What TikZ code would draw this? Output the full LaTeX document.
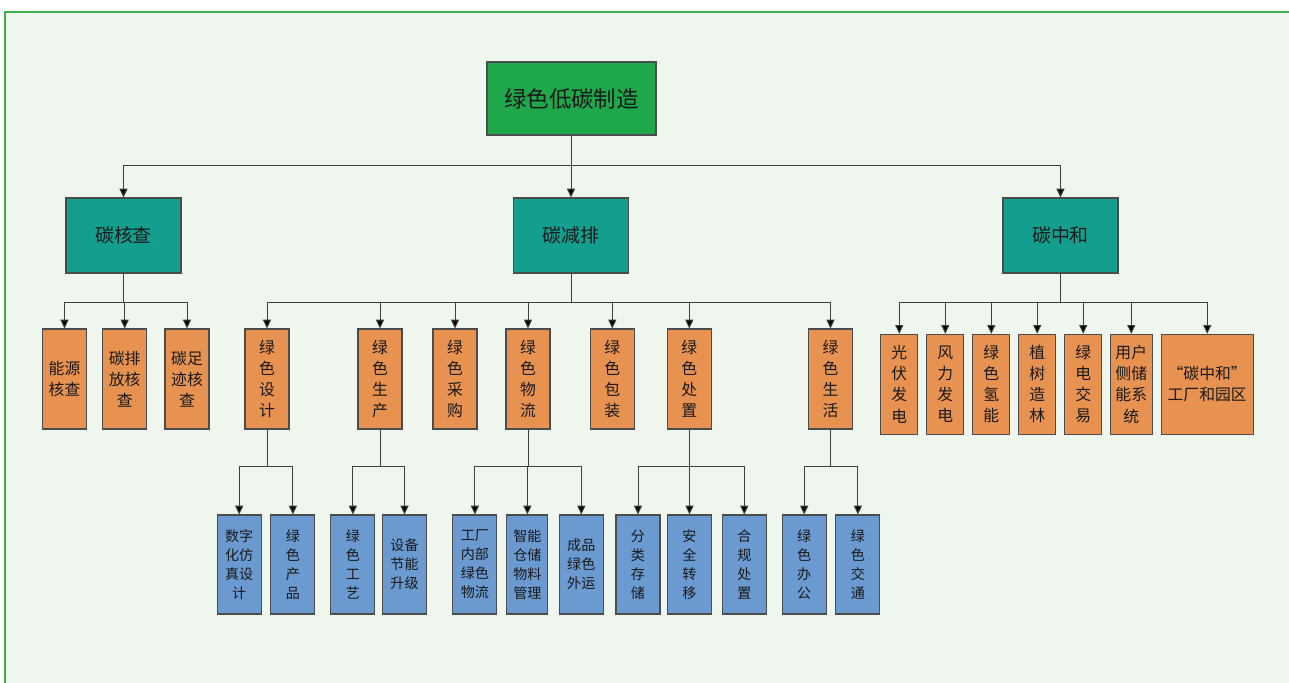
\documentclass[tikz,border=0pt]{standalone}
\usepackage{fontspec}
\setmainfont{Noto Sans CJK SC}
\usetikzlibrary{arrows.meta}

\definecolor{bgc}{RGB}{238,246,238}
\definecolor{framec}{RGB}{60,178,72}
\definecolor{rootc}{RGB}{30,168,74}
\definecolor{tealc}{RGB}{20,158,142}
\definecolor{orangec}{RGB}{232,146,82}
\definecolor{bluec}{RGB}{106,154,208}

\begin{document}
\begin{tikzpicture}[x=0.02cm, y=-0.02cm,
		box/.style={draw=black!70, line width=0.6pt, inner sep=0pt, align=center, text=black!90},
		rootbox/.style={box, fill=rootc, minimum width=3.38cm, minimum height=1.46cm, font=\fontsize{12.8}{15}\selectfont},
		midbox/.style={box, fill=tealc, minimum width=2.3cm, minimum height=1.5cm, font=\fontsize{10.8}{13}\selectfont},
		subbox/.style={box, fill=orangec, minimum width=0.88cm, minimum height=2cm, font=\fontsize{9}{12}\selectfont},
		leafbox/.style={box, fill=bluec, minimum width=0.88cm, minimum height=1.98cm, font=\fontsize{8}{10.8}\selectfont},
		arr/.style={draw=black!75, line width=0.55pt, -{Triangle[width=4.6pt,length=5pt,fill=black]}}
	]
				\useasboundingbox (0, 0) rectangle (1289, 683);
				\fill[bgc] (5, 12) rectangle (1289, 683);
				\draw[framec, line width=1.6pt] (5, 683) -- (5, 12) -- (1289, 12);
				\node[rootbox] (root) at (571.5, 98.5) {绿色低碳制造};
				\node[midbox] (check) at (123.5, 235.5) {碳核查};
				\node[midbox] (reduce) at (571, 235.5) {碳减排};
				\node[midbox] (neutral) at (1060.5, 235.5) {碳中和};
				\foreach \c in {check, reduce, neutral}
					\draw[arr] (root.south) -- (root.south |- 0, 165) -| (\c.north);
				\node[subbox] (energy) at (64.5, 379) {能源\\核查};
				\node[subbox] (emission) at (124.7, 379) {碳排\\放核\\查};
				\node[subbox] (footprint) at (187, 379) {碳足\\迹核\\查};
				\foreach \c in {energy, emission, footprint}
					\draw[arr] (check.south) -- (check.south |- 0, 302) -| (\c.north);
				\node[subbox] (design) at (267, 379) {绿\\色\\设\\计};
				\node[subbox] (produce) at (380, 379) {绿\\色\\生\\产};
				\node[subbox] (purchase) at (455, 379) {绿\\色\\采\\购};
				\node[subbox] (logistics) at (528, 379) {绿\\色\\物\\流};
				\node[subbox] (package) at (612.3, 379) {绿\\色\\包\\装};
				\node[subbox] (dispose) at (689.3, 379) {绿\\色\\处\\置};
				\node[subbox] (life) at (830.5, 379) {绿\\色\\生\\活};
				\foreach \c in {design, produce, purchase, logistics, package, dispose, life}
					\draw[arr] (reduce.south) -- (reduce.south |- 0, 302) -| (\c.north);
				\node[subbox, minimum width=0.74cm] (solar) at (899.3, 384.3) {光\\伏\\发\\电};
				\node[subbox, minimum width=0.74cm] (wind) at (945.3, 384.3) {风\\力\\发\\电};
				\node[subbox, minimum width=0.74cm] (hydrogen) at (991.3, 384.3) {绿\\色\\氢\\能};
				\node[subbox, minimum width=0.74cm] (forest) at (1037.2, 384.3) {植\\树\\造\\林};
				\node[subbox, minimum width=0.74cm] (trade) at (1083.2, 384.3) {绿\\电\\交\\易};
				\node[subbox, minimum width=0.84cm] (storage) at (1131.3, 384.3) {用户\\侧储\\能系\\统};
				\node[subbox, minimum width=1.84cm] (park) at (1207.2, 384.3) {“碳中和”\\工厂和园区};
				\foreach \c in {solar, wind, hydrogen, forest, trade, storage, park}
					\draw[arr] (neutral.south) -- (neutral.south |- 0, 302) -| (\c.north);
				\node[leafbox] (digital) at (239.2, 564.5) {数字\\化仿\\真设\\计};
				\node[leafbox] (product) at (292.9, 564.5) {绿\\色\\产\\品};
				\foreach \c in {digital, product}
					\draw[arr] (design.south) -- (design.south |- 0, 466) -| (\c.north);
				\node[leafbox] (craft) at (352.9, 564.5) {绿\\色\\工\\艺};
				\node[leafbox] (upgrade) at (404.5, 564.5) {设备\\节能\\升级};
				\foreach \c in {craft, upgrade}
					\draw[arr] (produce.south) -- (produce.south |- 0, 466) -| (\c.north);
				\node[leafbox] (inner) at (474.9, 564.5) {工厂\\内部\\绿色\\物流};
				\node[leafbox, minimum width=0.82cm] (smart) at (527.4, 564.5) {智能\\仓储\\物料\\管理};
				\node[leafbox] (outbound) at (581.3, 564.5) {成品\\绿色\\外运};
				\foreach \c in {inner, smart, outbound}
					\draw[arr] (logistics.south) -- (logistics.south |- 0, 466) -| (\c.north);
				\node[leafbox] (sort) at (638, 564.5) {分\\类\\存\\储};
				\node[leafbox] (transfer) at (689.5, 564.5) {安\\全\\转\\移};
				\node[leafbox] (comply) at (744.3, 564.5) {合\\规\\处\\置};
				\foreach \c in {sort, transfer, comply}
					\draw[arr] (dispose.south) -- (dispose.south |- 0, 466) -| (\c.north);
				\node[leafbox] (office) at (804.2, 564.5) {绿\\色\\办\\公};
				\node[leafbox] (traffic) at (857.9, 564.5) {绿\\色\\交\\通};
				\foreach \c in {office, traffic}
					\draw[arr] (life.south) -- (life.south |- 0, 466) -| (\c.north);
			\end{tikzpicture}
\end{document}
